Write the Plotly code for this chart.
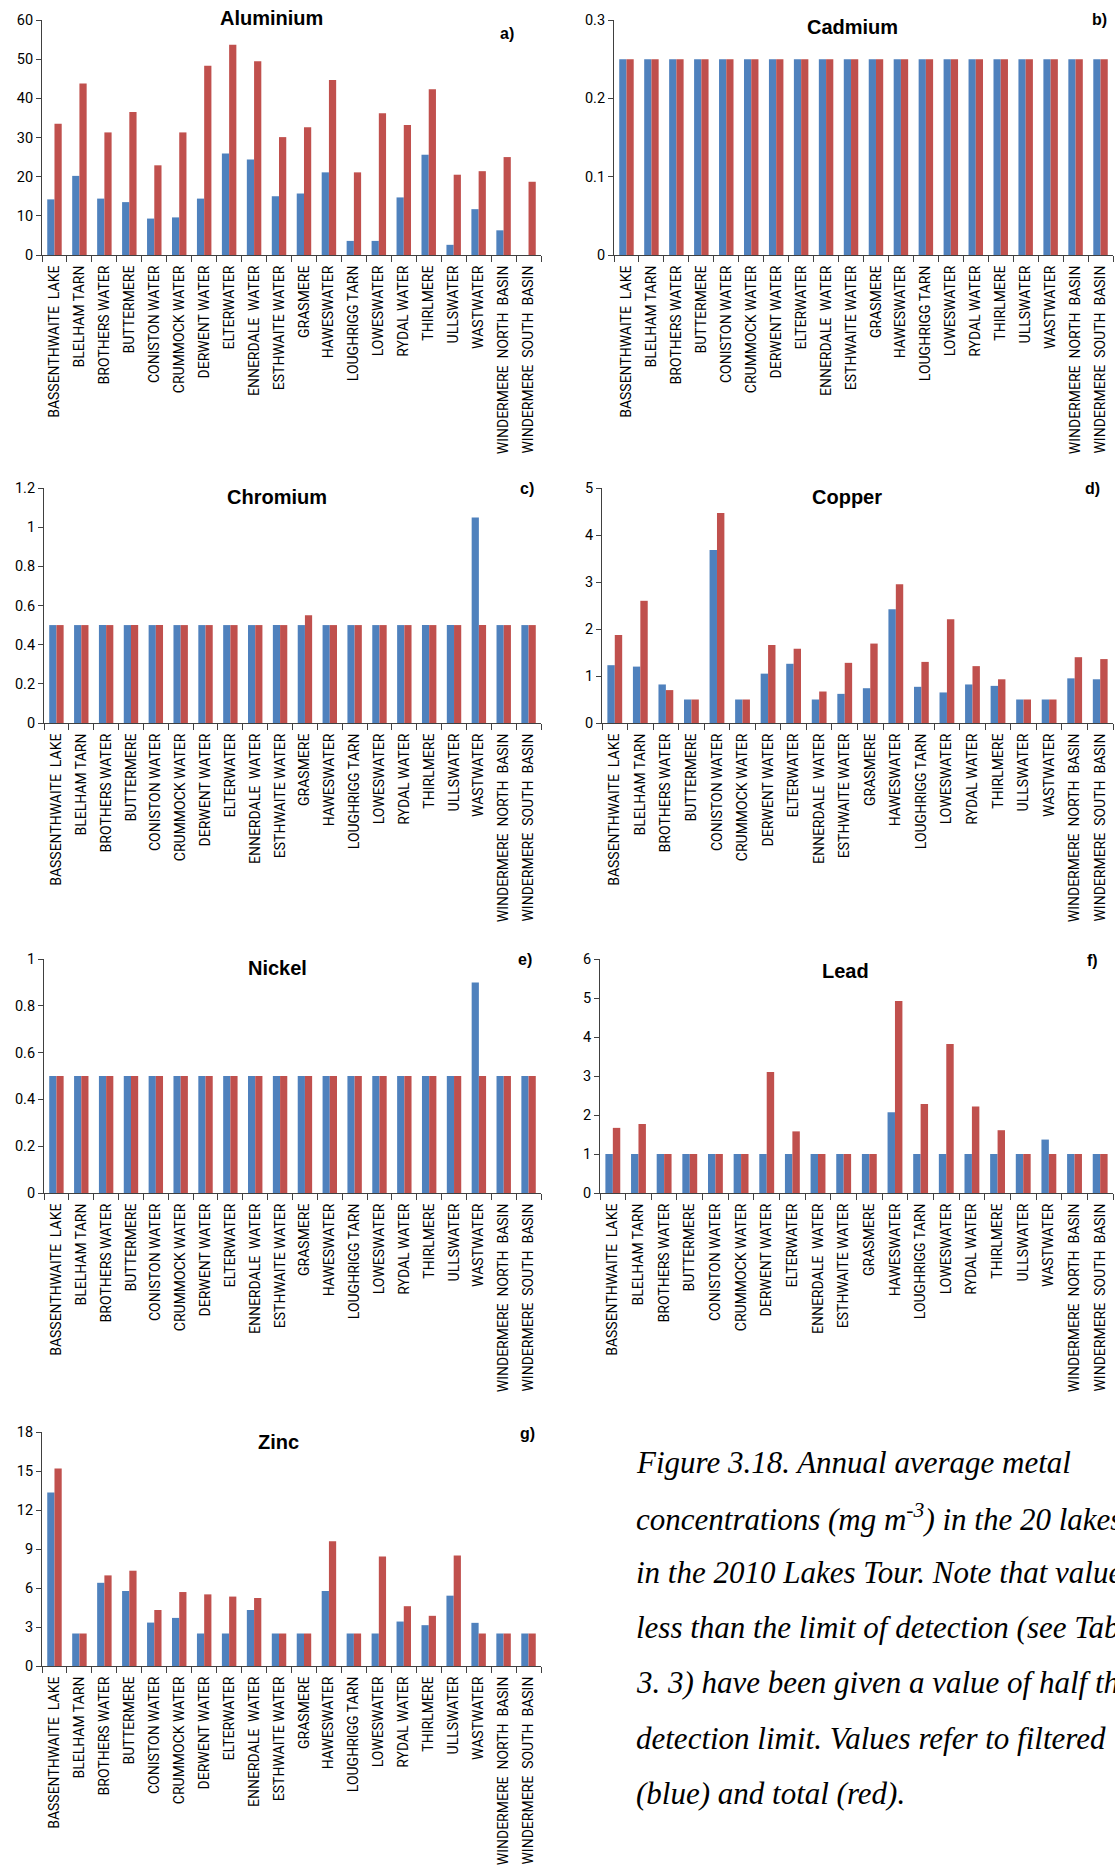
import plotly.graph_objects as go

W, H = 1115, 1865

lakes = ["BASSENTHWAITE\u00a0\u00a0LAKE", "BLELHAM TARN", "BROTHERS WATER", "BUTTERMERE",
         "CONISTON WATER", "CRUMMOCK WATER", "DERWENT WATER", "ELTERWATER",
         "ENNERDALE\u00a0\u00a0WATER", "ESTHWAITE WATER", "GRASMERE", "HAWESWATER",
         "LOUGHRIGG TARN", "LOWESWATER", "RYDAL WATER", "THIRLMERE", "ULLSWATER",
         "WASTWATER", "WINDERMERE\u00a0\u00a0NORTH\u00a0\u00a0BASIN", "WINDERMERE\u00a0\u00a0SOUTH\u00a0\u00a0BASIN"]

al_filtered = [14.2, 20.2, 14.4, 13.5, 9.3, 9.6, 14.4, 25.9, 24.4, 15.0, 15.7, 21.1, 3.6, 3.6, 14.7, 25.6, 2.6, 11.7, 6.3, 0.0]
al_total = [33.5, 43.8, 31.3, 36.5, 22.9, 31.3, 48.3, 53.7, 49.5, 30.1, 32.6, 44.7, 21.1, 36.2, 33.2, 42.3, 20.5, 21.4, 25.0, 18.7]

cd_filtered = [0.25] * 20
cd_total = [0.25] * 20

cr_filtered = [0.5, 0.5, 0.5, 0.5, 0.5, 0.5, 0.5, 0.5, 0.5, 0.5, 0.5, 0.5, 0.5, 0.5, 0.5, 0.5, 0.5, 1.05, 0.5, 0.5]
cr_total = [0.5, 0.5, 0.5, 0.5, 0.5, 0.5, 0.5, 0.5, 0.5, 0.5, 0.55, 0.5, 0.5, 0.5, 0.5, 0.5, 0.5, 0.5, 0.5, 0.5]

cu_filtered = [1.23, 1.20, 0.82, 0.50, 3.68, 0.50, 1.05, 1.26, 0.50, 0.62, 0.74, 2.42, 0.77, 0.65, 0.82, 0.79, 0.50, 0.50, 0.95, 0.93]
cu_total = [1.87, 2.60, 0.70, 0.50, 4.47, 0.50, 1.66, 1.58, 0.67, 1.28, 1.69, 2.95, 1.30, 2.21, 1.21, 0.93, 0.50, 0.50, 1.40, 1.36]

ni_filtered = [0.5, 0.5, 0.5, 0.5, 0.5, 0.5, 0.5, 0.5, 0.5, 0.5, 0.5, 0.5, 0.5, 0.5, 0.5, 0.5, 0.5, 0.9, 0.5, 0.5]
ni_total = [0.5] * 20

pb_filtered = [1, 1, 1, 1, 1, 1, 1, 1, 1, 1, 1, 2.07, 1, 1, 1, 1, 1, 1.37, 1, 1]
pb_total = [1.67, 1.77, 1, 1, 1, 1, 3.10, 1.58, 1, 1, 1, 4.92, 2.28, 3.82, 2.22, 1.61, 1, 1, 1, 1]

zn_filtered = [13.35, 2.5, 6.4, 5.77, 3.34, 3.70, 2.5, 2.5, 4.31, 2.5, 2.5, 5.77, 2.5, 2.5, 3.42, 3.14, 5.41, 3.32, 2.5, 2.5]
zn_total = [15.2, 2.5, 6.97, 7.33, 4.31, 5.69, 5.51, 5.34, 5.23, 2.5, 2.5, 9.6, 2.5, 8.42, 4.6, 3.86, 8.5, 2.5, 2.5, 2.5]

panel_titles = ["Aluminium", "Cadmium", "Chromium", "Copper", "Nickel", "Lead", "Zinc"]
panel_letters = ["a)", "b)", "c)", "d)", "e)", "f)", "g)"]
y_max = [60, 0.3, 1.2, 5, 1, 6, 18]
y_dtick = [10, 0.1, 0.2, 1, 0.2, 1, 3]

caption_lines = [
    "Figure 3.18. Annual average metal",
    "concentrations (mg m<sup>-3</sup>) in the 20 lakes",
    "in the 2010 Lakes Tour. Note that values",
    "less than the limit of detection (see Table",
    "3. 3) have been given a value of half the",
    "detection limit. Values refer to filtered",
    "(blue) and total (red).",
]

filtered = [al_filtered, cd_filtered, cr_filtered, cu_filtered, ni_filtered, pb_filtered, zn_filtered]
total = [al_total, cd_total, cr_total, cu_total, ni_total, pb_total, zn_total]

# layout geometry in pixels: (x_left, x_right, y_top, y_bottom)
boxes = [
    (42, 541, 20, 255),
    (614, 1113, 20, 255),
    (44, 541, 488, 723),
    (602, 1113, 488, 723),
    (44, 541, 959, 1193),
    (600, 1113, 959, 1193),
    (42, 541, 1432, 1666),
]
title_pos = [(271, 18), (852, 27), (277, 497), (847, 497), (277, 968), (846, 971), (278, 1442)]
letter_pos = [(507, 33), (1099, 19), (527, 488), (1092, 489), (525, 959), (1092, 960), (527, 1433)]

BLUE = "#4F81BD"
RED = "#C0504D"
AXIS = "#404040"
XTICKFONT = dict(family="Roboto, Open Sans, sans-serif", size=14, color="#000000")
YTICKFONT = dict(family="Roboto, Open Sans, sans-serif", size=14.5, color="#000000")

fig = go.Figure()
layout = dict(
    width=W, height=H,
    margin=dict(l=0, r=0, t=0, b=0),
    paper_bgcolor="white", plot_bgcolor="white",
    barmode="group", bargap=0.42, bargroupgap=0.0,
    showlegend=False,
    annotations=[],
)

for i in range(7):
    sfx = "" if i == 0 else str(i + 1)
    xl, xr, yt, yb = boxes[i]
    fig.add_trace(go.Bar(x=lakes, y=filtered[i], marker=dict(color=BLUE, line=dict(width=0)),
                         name="filtered", xaxis="x" + sfx, yaxis="y" + sfx))
    fig.add_trace(go.Bar(x=lakes, y=total[i], marker=dict(color=RED, line=dict(width=0)),
                         name="total", xaxis="x" + sfx, yaxis="y" + sfx))
    layout["xaxis" + sfx] = dict(
        domain=[xl / W, xr / W], anchor="y" + sfx,
        showline=True, linecolor=AXIS, linewidth=1,
        ticks="outside", ticklen=6, tickcolor=AXIS, tickson="boundaries",
        tickangle=-90, tickfont=XTICKFONT, showgrid=False, zeroline=False,
        automargin=False, fixedrange=True, ticklabelstandoff=4,
        categoryorder="array", categoryarray=lakes,
    )
    layout["yaxis" + sfx] = dict(
        domain=[1 - yb / H, 1 - yt / H], anchor="x" + sfx,
        range=[0, y_max[i]], dtick=y_dtick[i], tick0=0,
        showline=True, linecolor=AXIS, linewidth=1,
        ticks="outside", ticklen=5, tickcolor=AXIS,
        tickfont=YTICKFONT, showgrid=False, zeroline=False,
        automargin=False, fixedrange=True,
    )
    tx, ty = title_pos[i]
    layout["annotations"].append(dict(
        text="<b>" + panel_titles[i] + "</b>", x=tx / W, y=1 - ty / H,
        xref="paper", yref="paper", xanchor="center", yanchor="middle",
        showarrow=False, font=dict(family="Liberation Sans, Arial, sans-serif", size=20, color="#000000")))
    lx, ly = letter_pos[i]
    layout["annotations"].append(dict(
        text="<b>" + panel_letters[i] + "</b>", x=lx / W, y=1 - ly / H,
        xref="paper", yref="paper", xanchor="center", yanchor="middle",
        showarrow=False, font=dict(family="Liberation Sans, Arial, sans-serif", size=16, color="#000000")))

cap_x = 634
cap_y0 = 1462
cap_step = 55.2
for k, line in enumerate(caption_lines):
    layout["annotations"].append(dict(
        text="<i>" + line + "</i>", x=cap_x / W, y=1 - (cap_y0 + k * cap_step) / H,
        xref="paper", yref="paper", xanchor="left", yanchor="middle",
        showarrow=False, font=dict(family="Liberation Serif, Times New Roman, serif", size=31, color="#000000")))

fig.update_layout(**layout)
fig.write_html("out.html")
